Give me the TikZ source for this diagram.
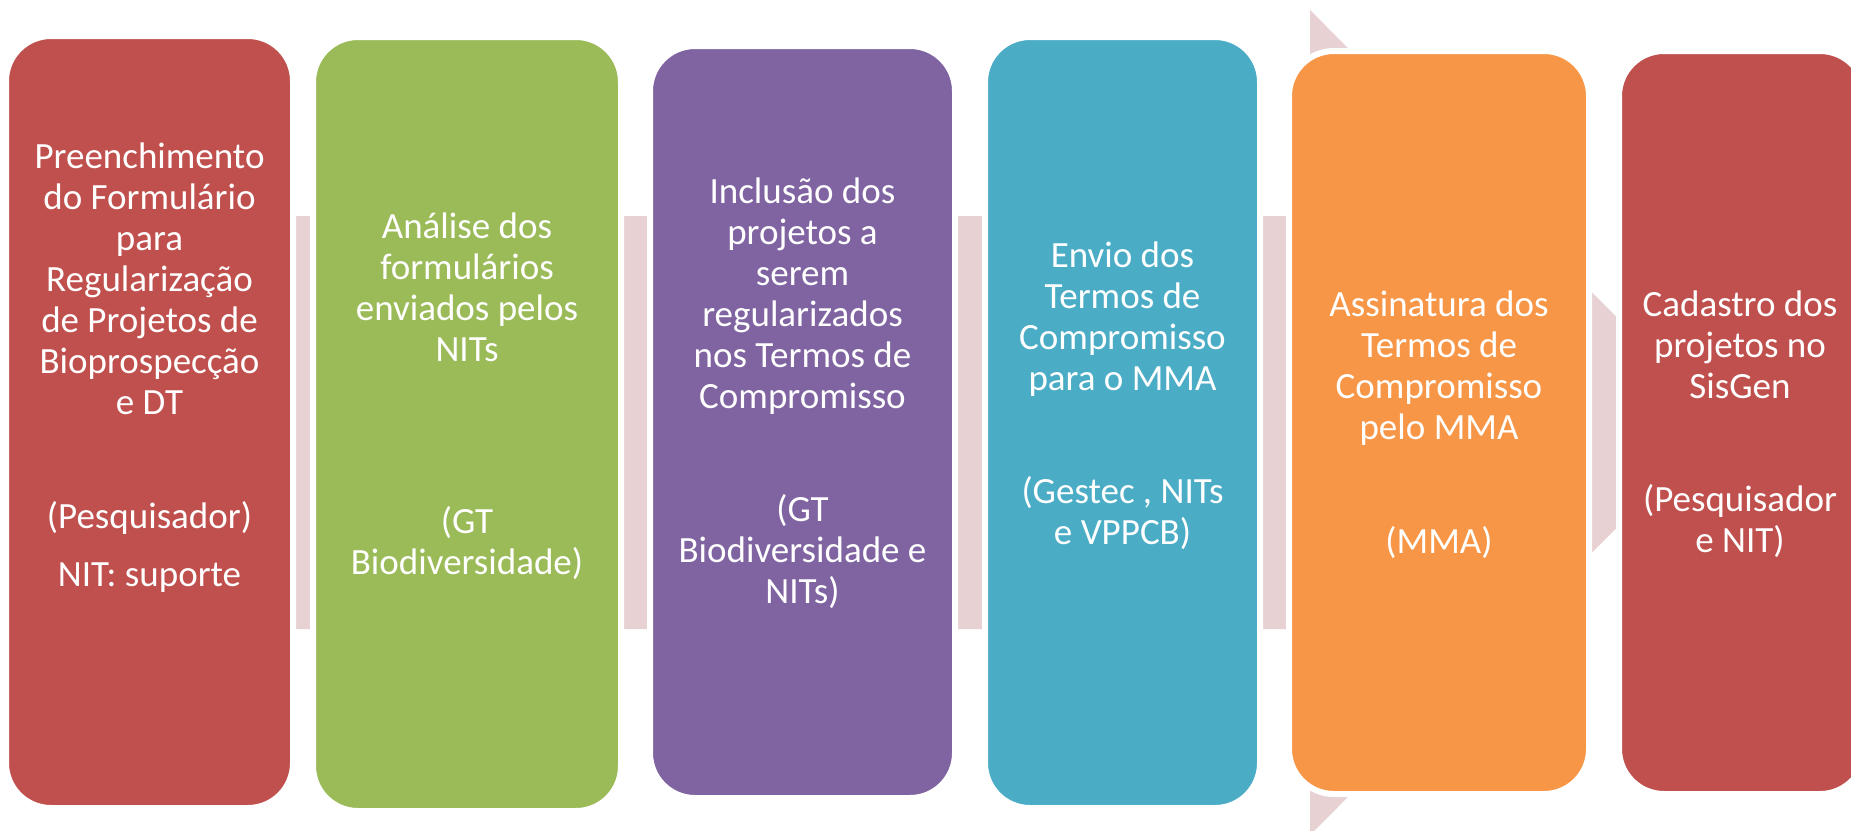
\documentclass[tikz,border=0pt]{standalone}
\usepackage{fontspec}
\setmainfont{Carlito}
\definecolor{stage1}{HTML}{C0504D}
\definecolor{stage2}{HTML}{9BBB59}
\definecolor{stage3}{HTML}{8064A2}
\definecolor{stage4}{HTML}{4BACC6}
\definecolor{stage5}{HTML}{F79646}
\definecolor{flow}{HTML}{E8D1D2}
\tikzstyle{stage_box}=[rectangle,
                       draw=white,
                       line width=6pt,
                       inner sep=0pt,
                       rounded corners=45pt ]
\tikzstyle{stage_text}=[align=center,
                        anchor=north,
                        inner sep=0pt,
                        text=white,
                        font=\fontsize{37}{41}\selectfont ]

\begin{document}
\begin{tikzpicture}[x=1pt, y=-1pt]
    \useasboundingbox (0,0) rectangle (1851,830);
    \clip (0,0) rectangle (1851,830);

    % background arrow
    \fill[flow] (40,216) -- (1310,216) -- (1310,10) -- (1722,422.5)
        -- (1310,835) -- (1310,629) -- (40,629) -- cycle;

    \node at (149.5, 422) (S1) [stage_box, fill=stage1, minimum width=287pt, minimum height=772pt] {};
    \node at (467, 424) (S2) [stage_box, fill=stage2, minimum width=308pt, minimum height=774pt] {};
    \node at (802.5, 422) (S3) [stage_box, fill=stage3, minimum width=305pt, minimum height=752pt] {};
    \node at (1122.5, 422.5) (S4) [stage_box, fill=stage4, minimum width=275pt, minimum height=771pt] {};
    \node at (1439, 422.5) (S5) [stage_box, fill=stage5, minimum width=300pt, minimum height=743pt] {};
    \node at (1742, 422.5) (S6) [stage_box, fill=stage1, minimum width=246pt, minimum height=743pt] {};

    \node at (149.5, 139.3) (L1) [stage_text] {\strut Preenchimento\\do Formulário\\para\\Regularização\\de Projetos de\\Bioprospecção\\e DT\\[73pt] (Pesquisador)\\[17pt] NIT: suporte};
    \node at (467, 209.3) (L2) [stage_text] {\strut Análise dos\\formulários\\enviados pelos\\NITs\\[131pt] (GT\\Biodiversidade)};
    \node at (802.5, 174.3) (L3) [stage_text] {\strut Inclusão dos\\projetos a\\serem\\regularizados\\nos Termos de\\Compromisso\\[72pt] (GT\\Biodiversidade e\\NITs)};
    \node at (1122.5, 238.3) (L4) [stage_text] {\strut Envio dos\\Termos de\\Compromisso\\para o MMA\\[72pt] (Gestec , NITs\\e VPPCB)};
    \node at (1439, 287.3) (L5) [stage_text] {\strut Assinatura dos\\Termos de\\Compromisso\\pelo MMA\\[73pt] (MMA)};
    \node at (1740, 287.3) (L6) [stage_text] {\strut Cadastro dos\\projetos no\\SisGen\\[72pt] (Pesquisador\\e NIT)};
\end{tikzpicture}
\end{document}
